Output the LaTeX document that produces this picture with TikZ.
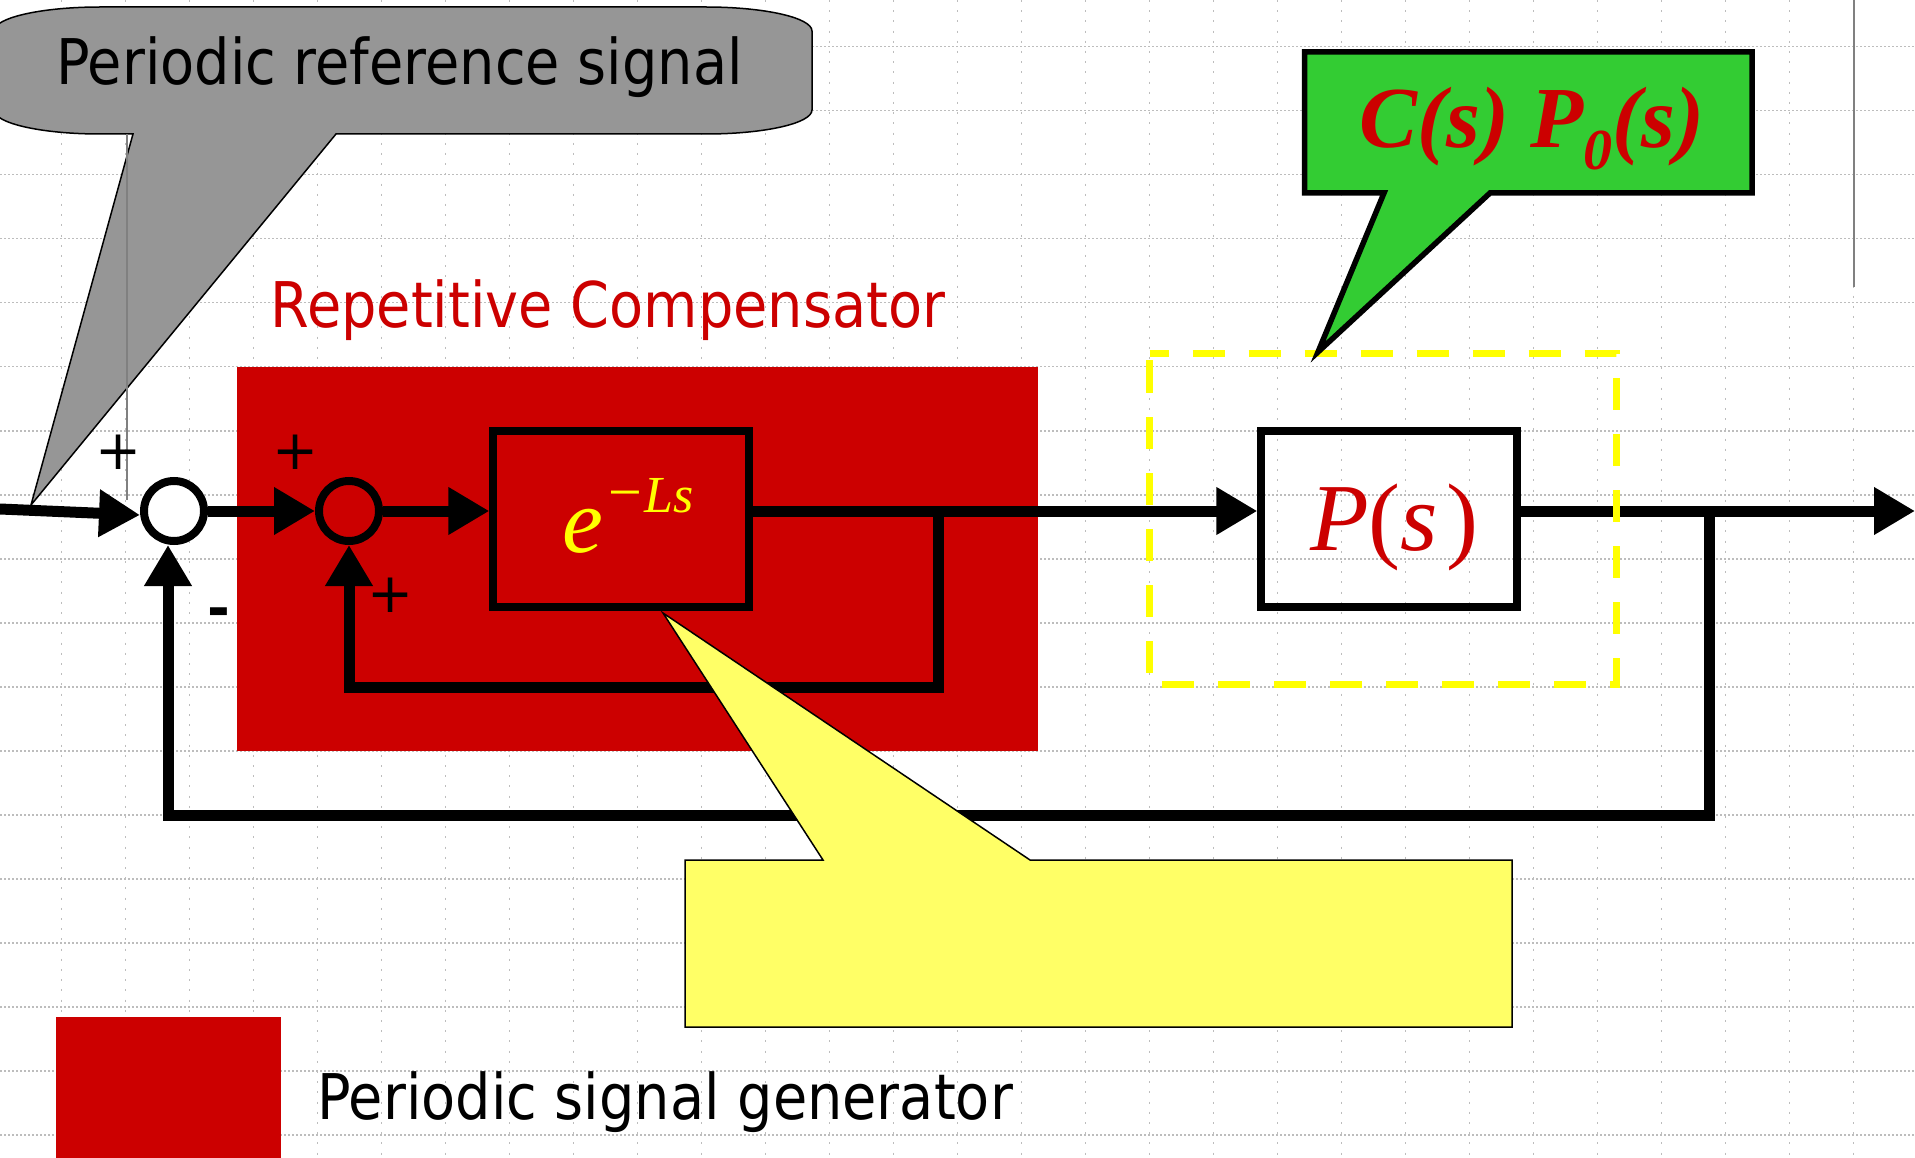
\documentclass[tikz,border=0pt]{standalone}
\usepackage{fontspec}
\newfontfamily\tah[FakeStretch=0.885]{DejaVu Sans}
\newfontfamily\dejavu{DejaVu Sans}
\newfontfamily\tms{Liberation Serif}
\usetikzlibrary{arrows.meta}
\definecolor{rc}{HTML}{CC0000}
\definecolor{gc}{HTML}{33CC33}
\definecolor{yc}{HTML}{FFFF66}
\definecolor{yd}{HTML}{FFFF00}
\definecolor{grayc}{HTML}{969696}
\definecolor{gridc}{HTML}{BDBDBD}
\tikzset{
  gridv/.style={line width=1.6, gridc, dash pattern=on 2pt off 8.2pt},
  gridh/.style={line width=1.6, gridc, dash pattern=on 2pt off 2pt},
  ln/.style={line width=11, line join=miter},
  arr/.style={ln, -{Triangle[length=41pt, width=45pt]}},
  sumc/.style={circle, draw, line width=8, minimum size=60, inner sep=0},
  blk/.style={rectangle, draw, line width=7.3, minimum width=256, minimum height=176, inner sep=0},
  sanstext/.style={anchor=base west, inner sep=0, font=\tah\fontsize{63}{70}\selectfont},
  sign/.style={inner sep=0, font=\dejavu\fontsize{55}{55}\selectfont},
}
\begin{document}
\begin{tikzpicture}[x=1pt, y=-1pt]
\useasboundingbox (0,0) rectangle (1915,1158);
\fill[white] (0,0) rectangle (1915,1158);
\clip (0,0) rectangle (1915,1158);
% grid
\foreach \gx in {0,...,28} \draw[gridv] ({61.3+64*\gx},0) -- ({61.3+64*\gx},1158);
\foreach \gy in {0,...,17} \draw[gridh] (0,{46.7+64*\gy}) -- (1915,{46.7+64*\gy});
\draw[line width=2, color=gray] (1854,0) -- (1854,287);
% repetitive compensator region
\fill[rc] (237,367) rectangle (1038,751);
% gray callout
\draw[fill=grayc, line width=1.5]
  (100,7) -- (706,7) .. controls (764.5,7) and (812,17.7) .. (812,31)
  -- (812,110) .. controls (812,123.3) and (764.5,134) .. (706,134)
  -- (336,134) -- (31,505) -- (133,134) -- (100,134)
  .. controls (41.5,134) and (-6,123.3) .. (-6,110)
  -- (-6,31) .. controls (-6,17.7) and (41.5,7) .. (100,7) -- cycle;
\draw[line width=1.5, color=gray] (127,134) -- (127,500);
\node[sanstext] (reftext) at (56,85) {Periodic reference signal};
\node[sanstext, text=rc] (rctext) at (270.6,328) {Repetitive Compensator};
% blocks
\node[sumc, fill=white] (s1) at (174,511) {};
\node[sumc] (s2) at (349,511) {};
\node[blk] (eb) at (621,519) {};
\node[blk] (pb) at (1389,519) {};
\node[anchor=base west, inner sep=0, text=yd, font=\tms] (etext) at (562,552)
  {\fontsize{92}{92}\selectfont\itshape e\kern5pt\raisebox{40pt}{\fontsize{60}{60}\selectfont\upshape −\kern3pt\fontsize{52}{52}\selectfont\itshape Ls}};
\node[anchor=base west, inner sep=0, text=rc, font=\tms\fontsize{96}{96}\selectfont] (ptext) at (1310,550)
  {\itshape P\upshape(\itshape s\kern8pt\upshape)};
% connectors
\coordinate (in) at (0,509);
\coordinate (b1) at (938,511);
\coordinate (b2) at (1709,511);
\coordinate (c1) at (349,687);
\coordinate (c2) at (168,815);
\coordinate (out) at (1915,511);
\draw[arr] (in) -- ([yshift=-4pt]s1.west);
\draw[arr] (s1) -- (s2);
\draw[arr] (s2) -- (s2 -| eb.west);
\draw[arr] (s2 -| eb.east) -- (s2 -| pb.west);
\draw[arr] (s2 -| pb.east) -- (out);
\draw[arr] (b1) |- (c1) -- (s2.south);
\draw[arr] (b2) |- (c2) -- ([xshift=-6pt]s1.south);
% signs
\node[sign] (p1) at (119,452) {+};
\node[sign] (p2) at (296,452) {+};
\node[sign] (p3) at (391,595) {+};
\node[sign, anchor=base, font=\dejavu\bfseries\fontsize{55}{55}\selectfont] (m1) at (219,627) {-};
% yellow callout
\draw[fill=yc, line width=1.5] (685,860) -- (823,860) -- (663,613) -- (1030,860)
  -- (1512,860) -- (1512,1027) -- (685,1027) -- cycle;
% dashed plant frame
\draw[yd, line width=7, dash pattern=on 32pt off 24pt, dash phase=13pt]
  (1149.5,353.5) -- (1616,353.5) -- (1616,684) -- (1149.5,684) -- cycle;
% green callout
\draw[fill=gc, line width=5.5, line join=miter] (1304.5,52) -- (1752,52) -- (1752,193)
  -- (1490,193) -- (1318,352) -- (1384,193) -- (1304.5,193) -- cycle;
\node[anchor=base west, inner sep=0, text=rc, font=\tms\bfseries\itshape\fontsize{87}{87}\selectfont] (cp) at (1359,148)
  {C(s) P\raisebox{-22pt}{\fontsize{58}{58}\selectfont 0}(s)};
% legend
\fill[rc] (56,1017) rectangle (281,1170);
\node[sanstext] (legtext) at (317,1119) {Periodic signal generator};
\end{tikzpicture}
\end{document}
